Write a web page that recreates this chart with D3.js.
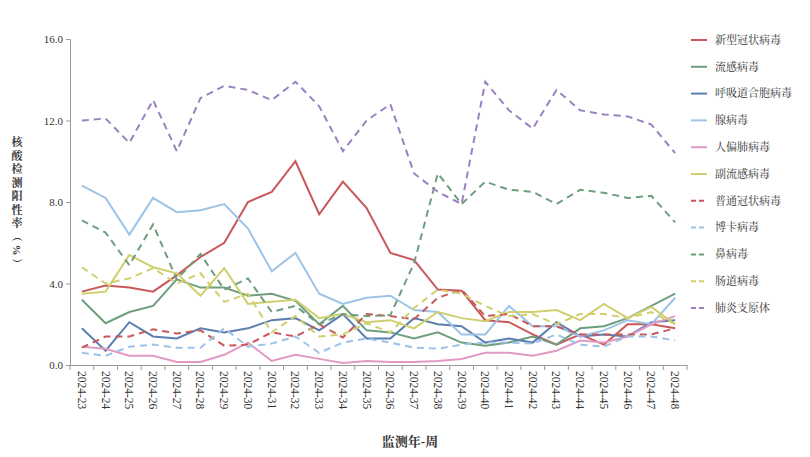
<!DOCTYPE html>
<html><head><meta charset="utf-8">
<script src="https://cdn.jsdelivr.net/npm/d3@7"></script>
<style>body{margin:0;background:#fff}text{font-family:"Liberation Serif","Noto Serif CJK SC","Noto Sans CJK SC",serif}</style>
</head><body><svg width="810" height="457"></svg>
<script>
var weeks = d3.range(23, 49).map(w => "2024-" + w);
var names = ["新型冠状病毒","流感病毒","呼吸道合胞病毒","腺病毒","人偏肺病毒","副流感病毒","普通冠状病毒","博卡病毒","鼻病毒","肠道病毒","肺炎支原体"];
var colors = ["#c8585a","#6e9e7e","#5b7fb0","#9dc3e6","#e29ac4","#cfcf6e","#c8585a","#9dc3e6","#6e9e7e","#cfcf6e","#9a82c0"];
var dashed = [false,false,false,false,false,false,true,true,true,true,true];
var covid = [3.6,3.9,3.8,3.6,4.4,5.3,6.0,8.0,8.5,10.0,7.4,9.0,7.7,5.5,5.15,3.7,3.65,2.2,2.1,1.5,1.0,1.5,1.0,2.0,2.0,1.8];
var flu = [3.2,2.05,2.6,2.9,4.2,3.8,3.8,3.4,3.5,3.15,2.0,2.9,1.7,1.6,1.3,1.6,1.1,0.95,1.1,1.4,1.0,1.8,1.9,2.3,2.9,3.5];
var rsv = [1.8,0.7,2.1,1.4,1.3,1.8,1.6,1.8,2.2,2.3,1.7,2.5,1.3,1.3,2.3,2.0,1.9,1.1,1.3,1.1,2.1,1.4,1.5,1.4,2.1,2.2];
var adeno = [8.8,8.2,6.4,8.2,7.5,7.6,7.9,6.7,4.6,5.5,3.5,3.0,3.3,3.4,2.7,2.6,1.5,1.5,2.9,1.9,1.9,1.4,1.7,2.2,2.0,3.3];
var hmpv = [0.9,0.8,0.45,0.45,0.15,0.15,0.5,1.1,0.2,0.5,0.3,0.1,0.2,0.15,0.15,0.2,0.3,0.6,0.6,0.45,0.7,1.2,1.1,1.4,2.0,2.4];
var para = [3.5,3.6,5.4,4.8,4.5,3.4,4.75,3.0,3.1,3.2,2.3,2.5,2.1,2.2,1.8,2.6,2.3,2.15,2.6,2.6,2.7,2.2,3.0,2.3,2.85,2.0];
var hcov = [0.85,1.4,1.4,1.75,1.55,1.7,0.95,1.0,1.6,1.4,2.0,1.35,2.5,2.4,2.25,3.3,3.7,2.4,2.5,1.9,1.9,1.5,1.5,1.5,1.5,1.8];
var boca = [0.6,0.45,0.9,1.0,0.85,0.85,1.8,0.9,1.05,1.4,0.6,1.1,1.3,1.1,0.85,0.8,1.0,1.1,1.1,1.05,1.5,1.0,0.9,1.4,1.4,1.2];
var rhino = [7.1,6.5,4.9,6.9,4.2,5.45,3.7,4.25,2.6,2.9,2.0,2.5,2.4,2.45,5.0,9.4,7.9,9.0,8.6,8.5,7.9,8.6,8.45,8.2,8.3,7.0];
var entero = [4.8,4.0,4.25,4.75,4.0,4.5,3.1,3.5,1.6,2.4,1.4,1.5,2.05,1.6,2.8,3.7,3.5,2.9,2.4,2.5,2.0,2.5,2.5,2.3,2.6,2.0];
var mp = [12.0,12.1,10.9,13.0,10.5,13.1,13.7,13.5,13.0,13.9,12.7,10.5,12.0,12.8,9.4,8.5,7.9,13.9,12.5,11.6,13.5,12.5,12.3,12.2,11.8,10.4];
var series = [covid,flu,rsv,adeno,hmpv,para,hcov,boca,rhino,entero,mp];
var yTicks = [0,4,8,12,16];

var svg = d3.select("svg");
var x = d3.scaleBand().domain(weeks).range([70, 687]);
var y = d3.scaleLinear().domain([0, 16]).range([365, 39]);

// axes
var ya = svg.append("g").attr("transform", "translate(70,0)")
    .call(d3.axisLeft(y).tickValues(yTicks).tickFormat(d3.format(".1f")).tickSizeOuter(0).tickSize(4));
ya.select(".domain").attr("stroke", "#999");
ya.selectAll("line").attr("stroke", "#999");
ya.selectAll("text").attr("font-size", 11).attr("fill", "#333");

var xa = svg.append("g").attr("transform", "translate(0,365)")
    .call(d3.axisBottom(x).tickSize(0));
xa.select(".domain").attr("stroke", "#999");
xa.selectAll("text").attr("font-size", 11.5).attr("fill", "#333")
    .attr("transform", "rotate(90)").attr("text-anchor", "start")
    .attr("x", 6).attr("y", 0).attr("dy", "0.35em");
svg.append("g").selectAll("line").data(weeks.concat([null])).join("line")
    .attr("x1", (d, i) => 70 + i * x.bandwidth()).attr("x2", (d, i) => 70 + i * x.bandwidth())
    .attr("y1", 365).attr("y2", 370).attr("stroke", "#999");

// lines
var line = d3.line().x((d, i) => x(weeks[i]) + x.bandwidth() / 2).y(d => y(d));
svg.append("g").selectAll("path").data(series).join("path")
    .attr("d", line).attr("fill", "none")
    .attr("stroke", (d, i) => colors[i]).attr("stroke-width", 2)
    .attr("stroke-dasharray", (d, i) => dashed[i] ? "7,5" : null);

// legend
var lg = svg.append("g").selectAll("g").data(names).join("g")
    .attr("transform", (d, i) => `translate(691,${40 + i * 26.8})`);
lg.append("line").attr("x1", 0).attr("x2", 16)
    .attr("stroke", (d, i) => colors[i]).attr("stroke-width", 2)
    .attr("stroke-dasharray", (d, i) => dashed[i] ? "5,3" : null);
lg.append("text").attr("x", 24).attr("dy", "0.35em").attr("font-size", 11).attr("fill", "#333").text(d => d);

// axis titles
svg.append("text").attr("x", 410).attr("y", 446).attr("text-anchor", "middle")
    .attr("font-size", 13).attr("font-weight", "bold").attr("fill", "#333").text("监测年-周");
svg.append("g").selectAll("text").data(Array.from("核酸检测阳性率（%）")).join("text")
    .attr("x", 17).attr("y", (d, i) => 146 + i * 13.5).attr("text-anchor", "middle")
    .attr("font-size", 11).attr("font-weight", "bold").attr("fill", "#333")
    .attr("transform", (d, i) => (d === "（" || d === "）" || d === "%") ? `rotate(90,17,${142 + i * 13.5})` : null)
    .text(d => d);
</script></body></html>
